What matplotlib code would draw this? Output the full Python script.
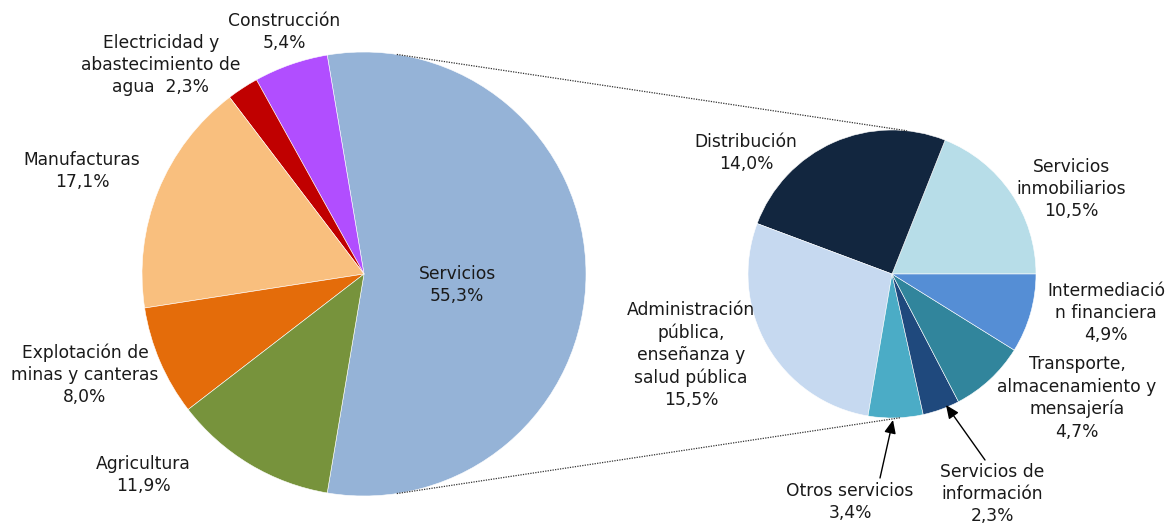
import numpy as np
import matplotlib
matplotlib.use("Agg")
import matplotlib.pyplot as plt

plt.rcParams['font.family'] = ['DejaVu Sans']

# ---- data ----
main_labels = ["Servicios", "Construcción", "Electricidad y\nabastecimiento de\nagua  2,3%",
               "Manufacturas", "Explotación de\nminas y canteras", "Agricultura"]
main_values = [55.3, 5.4, 2.3, 17.1, 8.0, 11.9]
main_colors = ["#95B3D7", "#B14EFF", "#C00000", "#F9BF7E", "#E46C0A", "#77933C"]

sub_labels = ["Servicios\ninmobiliarios", "Distribución", "Administración\npública,\nenseñanza y\nsalud pública",
              "Otros servicios", "Servicios de\ninformación", "Transporte,\nalmacenamiento y\nmensajería",
              "Intermediació\nn financiera"]
sub_values = [10.5, 14.0, 15.5, 3.4, 2.3, 4.7, 4.9]
sub_colors = ["#B7DDE8", "#12263F", "#C6D9F0", "#4BACC6", "#1F497D", "#31859C", "#558ED5"]

def fmt(v):
    return f"{v:.1f}".replace(".", ",") + "%"

W, H = 1167, 523
fig = plt.figure(figsize=(W / 100, H / 100), dpi=100)
ax = fig.add_axes([0, 0, 1, 1])
ax.set_xlim(0, W)
ax.set_ylim(0, H)
ax.set_aspect("equal")
ax.axis("off")

FS = 12.3
TXT = "#1a1a1a"

# left pie
c1 = (364, H - 274); r1 = 222
ax.pie(main_values, colors=main_colors, center=c1, radius=r1,
       startangle=-main_values[0] * 3.6 / 2, counterclock=True,
       wedgeprops=dict(linewidth=0.4, edgecolor="white"))

# right pie
c2 = (892, H - 274); r2 = 144
ax.pie(sub_values, colors=sub_colors, center=c2, radius=r2,
       startangle=0, counterclock=True,
       wedgeprops=dict(linewidth=0.4, edgecolor="white"))
ax.set_xlim(0, W)
ax.set_ylim(0, H)

# connector lines
def pt(c, r, deg):
    return (c[0] + r * np.cos(np.radians(deg)), c[1] + r * np.sin(np.radians(deg)))

for a1, a2 in [(81.5, 84.0), (-81.5, -86.8)]:
    p1 = pt(c1, r1, a1); p2 = pt(c2, r2, a2)
    ax.plot([p1[0], p2[0]], [p1[1], p2[1]], color="#333333", lw=0.9,
            linestyle=(0, (1, 1)), zorder=5)

def lab(x, y, name, value, joiner="\n"):
    s = name if value is None else name + joiner + fmt(value)
    ax.text(x, H - y, s, ha="center", va="center", fontsize=FS, color=TXT,
            linespacing=1.3)

# left labels
lab(284, 32, main_labels[1], main_values[1])
lab(161, 65, main_labels[2], None)
lab(82, 171, main_labels[3], main_values[3])
lab(85, 375, main_labels[4], main_values[4])
lab(143, 475, main_labels[5], main_values[5])
lab(457, 285, main_labels[0], main_values[0])

# right labels
lab(1071, 189, sub_labels[0], sub_values[0])
lab(746, 153, sub_labels[1], sub_values[1])
lab(691, 355, sub_labels[2], sub_values[2])
lab(1106, 313, sub_labels[6], sub_values[6])
lab(1077, 398, sub_labels[5], sub_values[5])
lab(850, 502, sub_labels[3], sub_values[3])
lab(992, 494, sub_labels[4], sub_values[4])

# arrows
arrow = dict(arrowstyle="-|>,head_length=0.8,head_width=0.35", color="black", lw=1.0,
             shrinkA=0, shrinkB=0)
ax.annotate("", xy=(893, H - 420), xytext=(880, H - 478), arrowprops=arrow)
ax.annotate("", xy=(946, H - 405), xytext=(985, H - 460), arrowprops=arrow)

fig.savefig("out.png", dpi=100, facecolor="white")
